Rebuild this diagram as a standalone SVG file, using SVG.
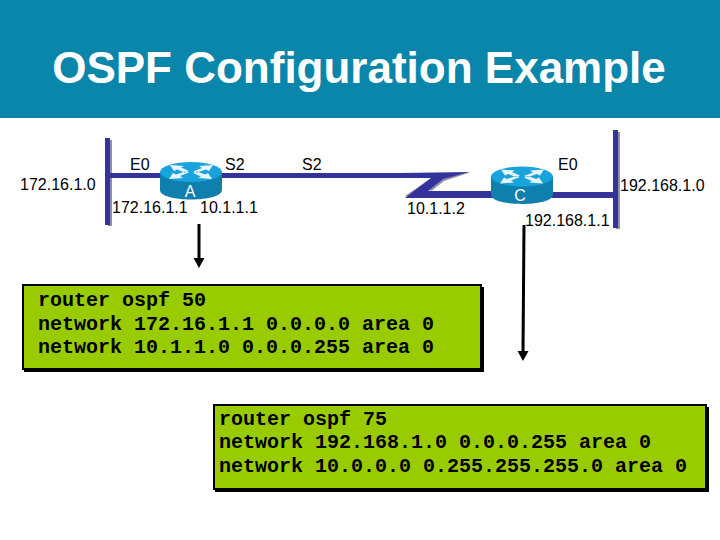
<svg xmlns="http://www.w3.org/2000/svg" width="720" height="540" viewBox="0 0 720 540">
<style>
.t{font-family:"Liberation Sans",Arial,sans-serif;font-size:16px;fill:#000}
.m{font-family:"Liberation Mono","Courier New",monospace;font-size:20px;font-weight:bold;fill:#000}
.rl{font-family:"Liberation Sans",Arial,sans-serif;font-size:16px;fill:#fff;text-anchor:middle}
.box{fill:#99cc00;stroke:#000;stroke-width:2}
.shadow{fill:#000}
.net{fill:#333399}
.sh{fill:#8f8fa8}
.rs{fill:#0f7fae}
.rt{fill:#19a3dc}
.x{fill:#fff;stroke:none;opacity:.9}
</style>
<defs>
<g id="router">
<path class="rs" d="M-31 -9V9C-31 15 -17 18.500 0 18.500S31 15 31 9V-9Z"/>
<ellipse class="rt" cx="0" cy="-9" rx="31" ry="10"/>
<path class="x" d="M-21 -16L-7 -15L-10 -13.500L-2 -10L-6 -8.500L-14 -11.500L-17 -10ZM21 -2L7 -3L10 -4.500L2 -8L6 -9.500L14 -6.500L17 -8ZM22 -16L8 -15L11 -13L2 -9.500L6 -8.500L15 -11.500L18 -10ZM-22 -2L-8 -3L-11 -5L-2 -8.500L-6 -9.500L-15 -6.500L-18 -8Z"/>
</g>
</defs>
<rect width="720" height="118" fill="#0a86ab"/>
<text x="359" y="83" font-family="'Liberation Sans',Arial,sans-serif" font-size="44" font-weight="bold" fill="#fff" text-anchor="middle">OSPF Configuration Example</text>

<g id="connectors">
<rect class="sh" x="108" y="140" width="4" height="86"/>
<rect class="net" x="105" y="138" width="5" height="87"/>
<rect class="net" x="105" y="173" width="60" height="5"/>
<path class="sh" d="M470 172.500L444 181L432 190.500H428L443 178Z"/>
<path class="sh" d="M405 196L409 197L434 180L430 179Z"/>
<path class="net" d="M218 173H400L470 172L443 179L428 191H495V198H405L431 178H218Z"/>
<rect class="sh" x="616" y="132" width="4" height="97"/>
<rect class="net" x="613" y="130" width="5" height="98"/>
<rect class="net" x="548" y="192" width="67" height="6"/>
<line x1="199" y1="224" x2="199" y2="260" stroke="#000" stroke-width="3"/>
<path d="M193.500 258H204.500L199 268Z" fill="#000"/>
<line x1="524" y1="225" x2="523" y2="353" stroke="#000" stroke-width="3"/>
<path d="M517.500 351H528.500L523 361Z" fill="#000"/>
</g>

<g id="router-a"><use href="#router" x="191" y="181"/><text class="rl" x="190" y="197">A</text></g>
<g id="router-c"><use href="#router" x="522" y="185.500"/><text class="rl" x="520" y="201">C</text></g>

<g id="labels">
<text class="t" x="20" y="190">172.16.1.0</text>
<text class="t" x="130" y="170">E0</text>
<text class="t" x="225" y="170">S2</text>
<text class="t" x="302" y="170">S2</text>
<text class="t" x="558" y="170">E0</text>
<text class="t" x="112" y="213">172.16.1.1</text>
<text class="t" x="200" y="213">10.1.1.1</text>
<text class="t" x="407" y="214">10.1.1.2</text>
<text class="t" x="620" y="191">192.168.1.0</text>
<text class="t" x="525" y="226">192.168.1.1</text>
</g>

<g id="config-a">
<rect class="shadow" x="24" y="287" width="460" height="85"/>
<rect class="box" x="23" y="285" width="458" height="84"/>
<text class="m" x="38" y="306">router ospf 50</text>
<text class="m" x="38" y="330">network 172.16.1.1 0.0.0.0 area 0</text>
<text class="m" x="38" y="353">network 10.1.1.0 0.0.0.255 area 0</text>
</g>

<g id="config-c">
<rect class="shadow" x="215" y="407" width="494" height="85"/>
<rect class="box" x="214" y="405" width="492" height="84"/>
<text class="m" x="219" y="425">router ospf 75</text>
<text class="m" x="219" y="448">network 192.168.1.0 0.0.0.255 area 0</text>
<text class="m" x="219" y="472">network 10.0.0.0 0.255.255.255.0 area 0</text>
</g>
</svg>
